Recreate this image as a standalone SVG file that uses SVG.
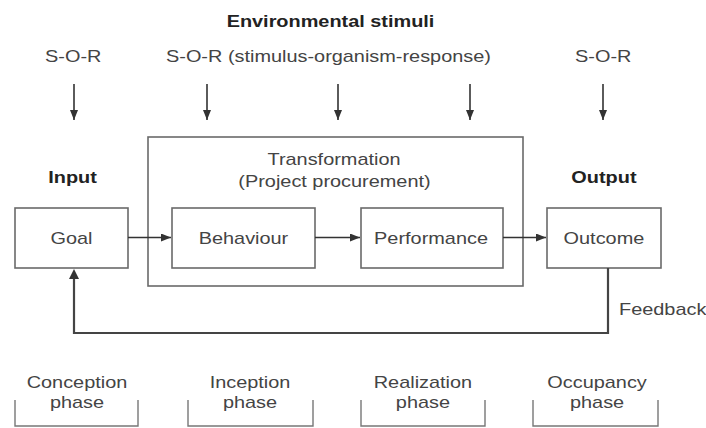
<svg xmlns="http://www.w3.org/2000/svg" width="706" height="428" viewBox="0 0 706 428">
  <defs>
    <marker id="head" viewBox="0 0 10 8" refX="10" refY="4" markerWidth="10" markerHeight="8" markerUnits="userSpaceOnUse" orient="auto">
      <path d="M0,0 L10,4 L0,8 z" fill="#333"/>
    </marker>
    <style>
      text { font-family: "Liberation Sans", Arial, sans-serif; fill: #444; font-size: 17px; }
      .bold { font-weight: bold; fill: #222; }
      .mid { text-anchor: middle; }
      .box { fill: #fff; stroke: #6a6a6a; stroke-width: 1.6; }
      .frame { fill: none; stroke: #6a6a6a; stroke-width: 1.6; }
      .arrow { fill: none; stroke: #333; stroke-width: 1.6; marker-end: url(#head); }
      .fb { fill: none; stroke: #444; stroke-width: 2.2; }
      .bracket { fill: none; stroke: #777; stroke-width: 1.4; }
    </style>
  </defs>

  <!-- boxes and frames -->
  <g id="transformation">
    <rect class="frame" x="148" y="137" width="375" height="149"/>
  </g>
  <g id="goal">
    <rect class="box" x="15" y="208" width="113" height="60"/>
  </g>
  <g id="behaviour">
    <rect class="box" x="172" y="208" width="143" height="60"/>
  </g>
  <g id="performance">
    <rect class="box" x="361" y="208" width="142" height="60"/>
  </g>
  <g id="outcome">
    <rect class="box" x="547" y="208" width="114" height="60"/>
  </g>

  <!-- connectors -->
  <g id="connectors">
    <line class="arrow" x1="74" y1="84" x2="74" y2="120"/>
    <line class="arrow" x1="207" y1="84" x2="207" y2="120"/>
    <line class="arrow" x1="338" y1="84" x2="338" y2="120"/>
    <line class="arrow" x1="470" y1="84" x2="470" y2="120"/>
    <line class="arrow" x1="603" y1="84" x2="603" y2="120"/>
    <line class="arrow" x1="128" y1="237.5" x2="171" y2="237.5"/>
    <line class="arrow" x1="315" y1="237.5" x2="360" y2="237.5"/>
    <line class="arrow" x1="503" y1="237.5" x2="546" y2="237.5"/>
    <path class="fb" d="M608,268 V333 H74 V278"/>
    <path d="M69,279 L74,269 L79,279 z" fill="#333"/>
  </g>

  <!-- phase brackets -->
  <g id="phases">
    <path class="bracket" d="M15,400 V426 H138 V400"/>
    <path class="bracket" d="M188,400 V426 H313 V400"/>
    <path class="bracket" d="M361,400 V426 H485 V400"/>
    <path class="bracket" d="M533,400 V426 H658 V400"/>
  </g>

  <!-- all labels use a slightly widened face; x values are divided by 1.17 -->
  <g id="labels" transform="scale(1.17 1)">
    <text class="bold mid" x="282.5" y="27">Environmental stimuli</text>
    <text x="38.5" y="62">S-O-R</text>
    <text x="141.9" y="62">S-O-R (stimulus-organism-response)</text>
    <text x="491.5" y="62">S-O-R</text>
    <text class="bold mid" x="62" y="183">Input</text>
    <text class="bold mid" x="516.2" y="183">Output</text>
    <text class="mid" x="285.5" y="165">Transformation</text>
    <text class="mid" x="285.9" y="187">(Project procurement)</text>
    <text class="mid" x="61.1" y="244">Goal</text>
    <text class="mid" x="208.1" y="244">Behaviour</text>
    <text class="mid" x="368.4" y="244">Performance</text>
    <text class="mid" x="516.2" y="244">Outcome</text>
    <text x="529.1" y="315">Feedback</text>
    <text class="mid" x="65.8" y="388">Conception</text>
    <text class="mid" x="65.8" y="408">phase</text>
    <text class="mid" x="213.7" y="388">Inception</text>
    <text class="mid" x="213.7" y="408">phase</text>
    <text class="mid" x="361.5" y="388">Realization</text>
    <text class="mid" x="361.5" y="408">phase</text>
    <text class="mid" x="510.3" y="388">Occupancy</text>
    <text class="mid" x="510.3" y="408">phase</text>
  </g>
</svg>
